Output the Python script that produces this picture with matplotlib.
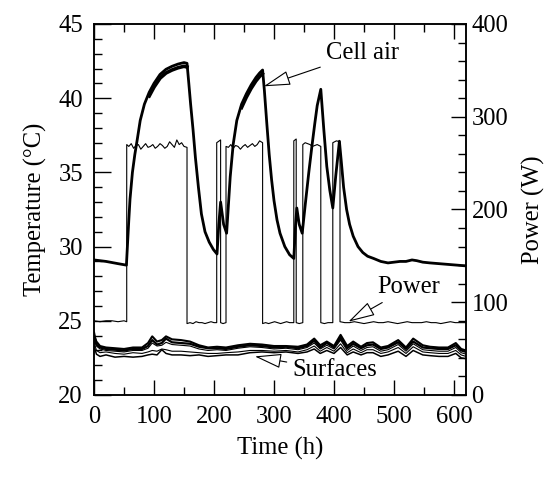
# Cell air temperature, surface temperatures and heater power over time

import numpy as np
import matplotlib.pyplot as plt

plt.rcParams['font.family'] = ['Liberation Serif', 'DejaVu Serif']
plt.rcParams['font.size'] = 17.7

# 1 data
# cell air temperature (degC)
cell_t = [0, 20, 40, 54, 56, 58, 60, 64, 68, 72, 77, 84, 92, 100, 110, 120, 130, 140, 150, 155,
          158, 161, 165, 169, 174, 179, 185, 192, 199, 205, 208, 211, 216, 221, 227, 232, 238,
          246, 254, 262, 270, 276, 281, 284, 288, 292, 296, 300, 305, 310, 318, 326, 333, 336,
          338, 342, 347, 352, 358, 363, 368, 372, 378, 383, 388, 393, 398, 403, 409, 412, 416,
          421, 426, 432, 440, 448, 456, 466, 478, 490, 500, 510, 520, 530, 538, 548, 560, 575,
          590, 605, 620]
cell_temp = [29.1, 29.0, 28.85, 28.75, 30.3, 31.8, 33.2, 35.0, 36.2, 37.2, 38.5, 39.6, 40.4, 41.0,
             41.6, 41.95, 42.15, 42.3, 42.4, 42.35, 41.0, 39.6, 37.9, 36.0, 34.0, 32.2, 31.0,
             30.3, 29.8, 29.5, 31.5, 33.0, 31.5, 30.9, 34.7, 36.9, 38.5, 39.6, 40.3, 40.9, 41.4,
             41.7, 41.9, 40.5, 38.3, 36.2, 34.5, 33.1, 31.8, 30.9, 30.0, 29.45, 29.2, 31.5, 32.6,
             31.5, 30.9, 32.8, 35.0, 36.7, 38.3, 39.5, 40.6, 37.9, 35.4, 33.8, 32.6, 34.8, 37.1,
             35.8, 34.0, 32.5, 31.5, 30.7, 30.0, 29.6, 29.35, 29.2, 29.0, 28.9, 28.95, 29.0,
             29.0, 29.1, 29.05, 28.95, 28.9, 28.85, 28.8, 28.75, 28.7]
# lower edge of the sensor band near the two long peaks
band1_t = [92, 100, 110, 120, 130, 140, 150, 155]
band1_temp = [40.15, 40.75, 41.35, 41.7, 41.9, 42.05, 42.15, 42.1]
band2_t = [246, 254, 262, 270, 276, 281]
band2_temp = [39.35, 40.05, 40.65, 41.15, 41.45, 41.65]

# heater power (W); repeated times are the on/off edges
power_t = [0, 10, 20, 30, 40, 50, 54.5,
           54.5, 58, 62, 66, 70, 74, 78, 82, 86, 90, 94, 98, 102, 106, 110, 114, 118, 122, 126,
           130, 134, 138, 142, 146, 150, 155,
           155, 160, 165, 170, 175, 180, 185, 190, 195, 200, 204.5,
           204.5, 211,
           211, 215, 220,
           220, 224, 228, 232, 236, 240, 244, 248, 252, 256, 260, 264, 268, 272, 276, 281,
           281, 286, 291, 296, 301, 306, 311, 316, 321, 326, 333,
           333, 337,
           337, 342, 348,
           348, 352, 356, 360, 364, 368, 372, 378,
           378, 384, 390, 398,
           398, 404, 410,
           410, 418, 426, 434, 442, 450, 458, 466, 474, 482, 490, 498, 506, 514, 522, 530, 538,
           546, 554, 562, 570, 578, 586, 594, 602, 610, 620]
power_w = [80, 79, 80, 80, 79, 80, 79,
           270, 268, 271, 266, 269, 270, 265, 268, 271, 267, 268, 270, 266, 268, 271, 269, 266,
           268, 273, 270, 267, 275, 270, 272, 268, 267,
           77, 78, 77, 79, 78, 78, 77, 78, 79, 78, 78,
           272, 275,
           78, 77, 78,
           268, 267, 270, 266, 269, 268, 265, 268, 270, 267, 269, 271, 268, 270, 274, 272,
           77, 78, 77, 78, 79, 78, 77, 78, 79, 78, 78,
           274, 276,
           78, 77, 78,
           270, 272, 271, 270, 268, 269, 270, 268,
           78, 77, 78, 78,
           272, 274, 273,
           79, 78, 78, 79, 78, 77, 78, 79, 78, 78, 79, 78, 77, 78, 79, 78, 78,
           78, 79, 78, 78, 77, 78, 79, 78, 78, 78]

# surface temperatures (degC), five sensors
surf_t = [0, 4, 10, 20, 35, 50, 65, 80, 90, 97, 105, 113, 120, 130, 145, 160, 175, 190, 205, 220,
          240, 260, 280, 300, 320, 340, 355, 367, 377, 388, 400, 411, 422, 432, 445, 455, 465,
          478, 490, 507, 520, 532, 548, 560, 575, 590, 603, 612, 620]
surf_1 = [24.0, 23.6, 23.3, 23.2, 23.15, 23.1, 23.2, 23.2, 23.5, 23.95, 23.6, 23.7, 23.95, 23.75,
          23.7, 23.6, 23.35, 23.2, 23.25, 23.2, 23.35, 23.45, 23.4, 23.3, 23.3, 23.25, 23.4, 23.8,
          23.35, 23.6, 23.3, 24.05, 23.3, 23.6, 23.25, 23.5, 23.55, 23.2, 23.3, 23.7, 23.2, 23.8,
          23.35, 23.25, 23.2, 23.2, 23.5, 23.1, 23.0]
surf_2 = [24.2, 23.4, 23.2, 23.1, 23.05, 23.0, 23.1, 23.1, 23.3, 23.7, 23.4, 23.5, 23.8, 23.55,
          23.5, 23.45, 23.25, 23.15, 23.15, 23.1, 23.25, 23.35, 23.3, 23.2, 23.25, 23.15, 23.3,
          23.65, 23.2, 23.5, 23.2, 23.85, 23.15, 23.45, 23.15, 23.35, 23.4, 23.1, 23.2, 23.55,
          23.1, 23.6, 23.2, 23.15, 23.1, 23.1, 23.35, 23.0, 22.9]
surf_3 = [23.8, 23.3, 23.1, 23.0, 22.95, 22.9, 23.0, 23.0, 23.15, 23.5, 23.3, 23.35, 23.55, 23.4,
          23.35, 23.3, 23.1, 23.0, 23.05, 23.0, 23.15, 23.25, 23.2, 23.1, 23.15, 23.05, 23.2, 23.5,
          23.1, 23.35, 23.1, 23.7, 23.0, 23.3, 23.0, 23.2, 23.25, 22.95, 23.05, 23.4, 22.95, 23.45,
          23.05, 23.0, 22.95, 22.95, 23.2, 22.85, 22.75]
surf_4 = [23.6, 23.0, 22.85, 22.9, 22.8, 22.75, 22.85, 22.8, 22.9, 23.0, 22.95, 23.1, 23.05, 22.95,
          22.95, 22.9, 22.85, 22.8, 22.8, 22.85, 22.9, 23.0, 23.0, 22.95, 23.0, 22.9, 23.05, 23.3,
          22.95, 23.2, 22.95, 23.45, 22.85, 23.1, 22.85, 23.05, 23.05, 22.8, 22.9, 23.2, 22.8, 23.25,
          22.9, 22.85, 22.8, 22.8, 23.0, 22.7, 22.6]
surf_5 = [23.3, 22.75, 22.6, 22.7, 22.55, 22.6, 22.55, 22.6, 22.7, 22.75, 22.7, 23.05, 22.8, 22.7,
          22.7, 22.65, 22.7, 22.6, 22.65, 22.7, 22.7, 22.85, 22.9, 22.85, 22.9, 22.8, 22.9, 23.1,
          22.8, 23.0, 22.8, 23.2, 22.7, 22.9, 22.7, 22.85, 22.85, 22.6, 22.7, 22.95, 22.6, 23.0,
          22.7, 22.65, 22.6, 22.6, 22.8, 22.5, 22.45]

x_ticks = [0, 100, 200, 300, 400, 500, 600]
temp_ticks = [20, 25, 30, 35, 40, 45]
power_ticks = [0, 100, 200, 300, 400]

# 2 figure
fig = plt.figure(figsize=(5.57, 4.79), dpi=100)
ax = fig.add_axes([0.1688, 0.1754, 0.6678, 0.7745])
ax2 = ax.twinx()

# power on the right axis (thin)
ax2.plot(power_t, power_w, color='black', lw=0.8)
ax2.set_ylim(0, 400)

# surfaces
ax.plot(surf_t, surf_1, color='black', lw=1.5)
ax.plot(surf_t, surf_2, color='black', lw=1.6)
ax.plot(surf_t, surf_3, color='black', lw=0.8)
ax.plot(surf_t, surf_4, color='black', lw=0.8)
ax.plot(surf_t, surf_5, color='black', lw=1.1)

# cell air
ax.plot(cell_t, cell_temp, color='black', lw=2.0)
ax.plot(band1_t, band1_temp, color='black', lw=2.6)
ax.plot(band2_t, band2_temp, color='black', lw=2.3)

ax.set_xlim(0, 620)
ax.set_ylim(20, 45)
ax.set_zorder(ax2.get_zorder() + 1)
ax.patch.set_visible(False)

ax.set_xticks(x_ticks)
ax.set_xticks(np.arange(50, 620, 100), minor=True)
ax.set_yticks(temp_ticks)
ax.set_yticks(np.arange(20, 46, 1), minor=True)
ax2.set_yticks(power_ticks)
ax2.set_yticks(np.arange(0, 401, 20), minor=True)

ax.tick_params(which='major', direction='in', length=11, width=1, top=True, pad=8)
ax.tick_params(which='minor', direction='in', length=6, width=1, top=True)
ax.tick_params(axis='y', which='major', length=12)
ax2.tick_params(which='major', direction='in', length=11, width=1, pad=4)
ax2.tick_params(which='minor', direction='in', length=6, width=1)

for a in (ax, ax2):
    for s in a.spines.values():
        s.set_linewidth(1.1)

ax.set_xlabel('Time (h)', labelpad=6)
ax.set_ylabel('Temperature (°C)', labelpad=8)
ax2.set_ylabel('Power (W)', labelpad=10)

# labels with hollow arrows
arrow = dict(arrowstyle='-|>,head_length=0.95,head_width=0.26', fc='white', ec='black', lw=0.8,
             shrinkA=2, shrinkB=0)
ax.annotate('Cell air', xy=(283, 40.8), xytext=(447, 43.05), ha='center', va='center',
            arrowprops=arrow)
ax2.annotate('Power', xy=(424, 79), xytext=(525, 116), ha='center', va='center',
             arrowprops=arrow)
ax.annotate('Surfaces', xy=(268, 22.6), xytext=(401, 21.65), ha='center', va='center',
            arrowprops=arrow)

fig.savefig('out.png', dpi=100)
